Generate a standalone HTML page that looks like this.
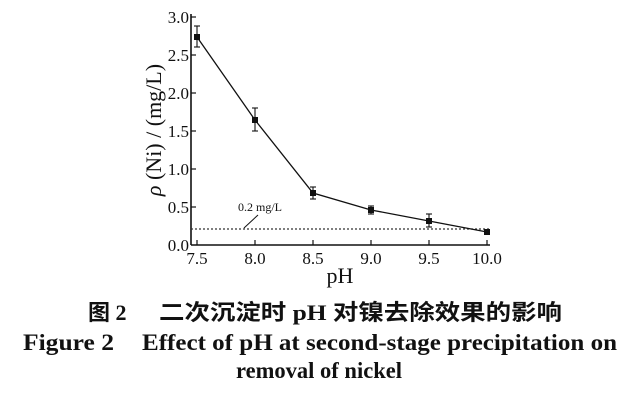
<!DOCTYPE html>
<html><head><meta charset="utf-8"><style>
body{margin:0;background:#fff;}
svg{display:block}
text{font-family:"Liberation Serif","Noto Serif CJK SC",serif;fill:#111}
</style></head><body>
<svg width="639" height="400" viewBox="0 0 639 400">
<g stroke="#111" stroke-width="1.6" fill="none">
<line x1="191" y1="14" x2="191" y2="245"/>
<line x1="191" y1="245" x2="490" y2="245"/>
</g>
<g stroke="#111" stroke-width="1.2">
<line x1="191" y1="17" x2="196" y2="17"/><line x1="191" y1="55" x2="196" y2="55"/>
<line x1="191" y1="93" x2="196" y2="93"/><line x1="191" y1="131" x2="196" y2="131"/>
<line x1="191" y1="169" x2="196" y2="169"/><line x1="191" y1="207" x2="196" y2="207"/>
<line x1="197" y1="245" x2="197" y2="240"/><line x1="255" y1="245" x2="255" y2="240"/>
<line x1="313" y1="245" x2="313" y2="240"/><line x1="371" y1="245" x2="371" y2="240"/>
<line x1="429" y1="245" x2="429" y2="240"/><line x1="487" y1="245" x2="487" y2="240"/>
</g>
<g font-size="17" text-anchor="end">
<text x="189" y="23">3.0</text><text x="189" y="61">2.5</text><text x="189" y="99">2.0</text>
<text x="189" y="137">1.5</text><text x="189" y="175">1.0</text><text x="189" y="213">0.5</text>
<text x="189" y="251">0.0</text>
</g>
<g font-size="17" text-anchor="middle">
<text x="197" y="264">7.5</text><text x="255" y="264">8.0</text><text x="313" y="264">8.5</text>
<text x="371" y="264">9.0</text><text x="429" y="264">9.5</text><text x="487" y="264">10.0</text>
</g>
<text x="340" y="283" font-size="22" text-anchor="middle">pH</text>
<text transform="translate(161,130) rotate(-90)" font-size="22" text-anchor="middle"><tspan font-style="italic">ρ</tspan> (Ni) / (mg/L)</text>
<line x1="191" y1="229" x2="490" y2="229" stroke="#333" stroke-width="1.2" stroke-dasharray="2,2"/>
<text x="238" y="211" font-size="12">0.2 mg/L</text>
<line x1="258" y1="215" x2="244" y2="228" stroke="#111" stroke-width="1"/>
<polyline points="197,37 255,120 313,193 371,210 429,221 487,232" fill="none" stroke="#111" stroke-width="1.3"/>
<g stroke="#111" stroke-width="1.1">
<line x1="197" y1="26" x2="197" y2="47"/><line x1="194" y1="26" x2="200" y2="26"/><line x1="194" y1="47" x2="200" y2="47"/>
<line x1="255" y1="108" x2="255" y2="131"/><line x1="252" y1="108" x2="258" y2="108"/><line x1="252" y1="131" x2="258" y2="131"/>
<line x1="313" y1="187" x2="313" y2="199"/><line x1="310" y1="187" x2="316" y2="187"/><line x1="310" y1="199" x2="316" y2="199"/>
<line x1="371" y1="206" x2="371" y2="214"/><line x1="368" y1="206" x2="374" y2="206"/><line x1="368" y1="214" x2="374" y2="214"/>
<line x1="429" y1="214" x2="429" y2="227"/><line x1="426" y1="214" x2="432" y2="214"/><line x1="426" y1="227" x2="432" y2="227"/>
</g>
<g fill="#111">
<rect x="194" y="34" width="6" height="6"/><rect x="252" y="117" width="6" height="6"/>
<rect x="310" y="190" width="6" height="6"/><rect x="368" y="207" width="6" height="6"/>
<rect x="426" y="218" width="6" height="6"/><rect x="484" y="229" width="6" height="6"/>
</g>
<text x="88" y="320" font-size="22" font-weight="bold" style="font-family:'Liberation Serif','Noto Sans CJK SC',serif">图 2</text>
<text x="159" y="320" font-size="22" font-weight="bold" textLength="403" lengthAdjust="spacingAndGlyphs" style="font-family:'Liberation Serif','Noto Sans CJK SC',serif">二次沉淀时 pH 对镍去除效果的影响</text>
<text x="23" y="350" font-size="23" font-weight="bold" textLength="91" lengthAdjust="spacingAndGlyphs" style="font-family:'Liberation Serif',serif">Figure 2</text>
<text x="114" y="350" font-size="23" font-weight="bold" textLength="387" lengthAdjust="spacingAndGlyphs" style="font-family:'Liberation Serif',serif" transform="translate(0,0)" dx="0"></text>
<text x="142" y="350" font-size="23" font-weight="bold" textLength="475" lengthAdjust="spacingAndGlyphs" style="font-family:'Liberation Serif',serif">Effect of pH at second-stage precipitation on</text>
<text x="236" y="378" font-size="23" font-weight="bold" textLength="166" lengthAdjust="spacingAndGlyphs" style="font-family:'Liberation Serif',serif">removal of nickel</text>
</svg>
</body></html>
